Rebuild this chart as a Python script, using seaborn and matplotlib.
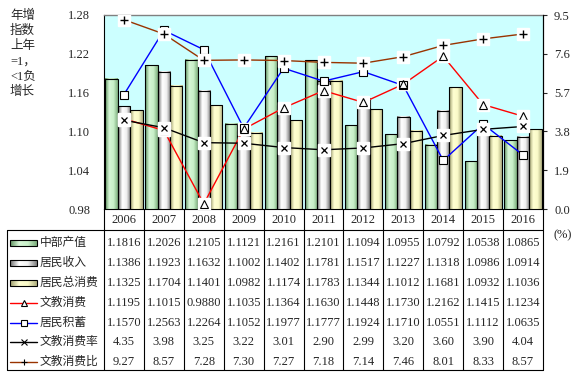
import numpy as np
import pandas as pd
import matplotlib
matplotlib.use('Agg')
import matplotlib.pyplot as plt
import seaborn as sns
from matplotlib.colors import LinearSegmentedColormap
from matplotlib.patches import Rectangle
from matplotlib.transforms import blended_transform_factory

years = ['2006', '2007', '2008', '2009', '2010', '2011', '2012', '2013', '2014', '2015', '2016']
gdp = [1.1816, 1.2026, 1.2105, 1.1121, 1.2161, 1.2101, 1.1094, 1.0955, 1.0792, 1.0538, 1.0865]
income = [1.1386, 1.1923, 1.1632, 1.1002, 1.1402, 1.1781, 1.1517, 1.1227, 1.1318, 1.0986, 1.0914]
consume = [1.1325, 1.1704, 1.1401, 1.0982, 1.1174, 1.1783, 1.1344, 1.1012, 1.1681, 1.0932, 1.1036]
edu_consume = [1.1195, 1.1015, 0.9880, 1.1035, 1.1364, 1.1630, 1.1448, 1.1730, 1.2162, 1.1415, 1.1234]
savings = [1.1570, 1.2563, 1.2264, 1.1052, 1.1977, 1.1777, 1.1924, 1.1710, 1.0551, 1.1112, 1.0635]
edu_rate = [4.35, 3.98, 3.25, 3.22, 3.01, 2.90, 2.99, 3.20, 3.60, 3.90, 4.04]
edu_ratio = [9.27, 8.57, 7.28, 7.30, 7.27, 7.18, 7.14, 7.46, 8.01, 8.33, 8.57]

bar_names = ['中部产值', '居民收入', '居民总消费']
line_names = ['文教消费', '居民积蓄', '文教消费率', '文教消费比']
left_ticks = [0.98, 1.04, 1.10, 1.16, 1.22, 1.28]
right_ticks = [0.0, 1.9, 3.8, 5.7, 7.6, 9.5]

sns.set_style('white')
plt.rcParams['font.family'] = ['Liberation Serif', 'Noto Sans CJK SC']
plt.rcParams['axes.unicode_minus'] = False

# gradient colormaps for the bars (dark edge -> light centre -> mid edge)
cmaps = [
    LinearSegmentedColormap.from_list('g', ['#5E915E', '#D6F6D6', '#C8F0C8', '#7DAE7D']),
    LinearSegmentedColormap.from_list('s', ['#6E6E6E', '#FFFFFF', '#F0F0F0', '#7E7E7E']),
    LinearSegmentedColormap.from_list('y', ['#9C9C6C', '#FFFFD2', '#FAFAC8', '#B0B080']),
]
grad = np.linspace(0, 1, 64).reshape(1, -1)

fig = plt.figure(figsize=(5.76, 3.76), dpi=100)
ax = fig.add_axes([104 / 576, 1 - 209 / 376, 439 / 576, 194 / 376])
ax.set_facecolor('#CCFFFF')

df = pd.DataFrame({
    'year': years * 3,
    'series': [n for n in bar_names for _ in years],
    'value': gdp + income + consume,
})
sns.barplot(data=df, x='year', y='value', hue='series', hue_order=bar_names,
            palette=['#C8F0C8', '#E8E8E8', '#FFFFCC'], saturation=1, width=0.93,
            edgecolor='black', linewidth=0.8, ax=ax, legend=False)

for k, cont in enumerate(ax.containers):
    for bar in cont:
        x0, w = bar.get_x(), bar.get_width()
        y0, h = bar.get_y(), bar.get_height()
        im = ax.imshow(grad, cmap=cmaps[k], extent=[x0, x0 + w, y0, y0 + h],
                       aspect='auto', origin='lower', zorder=2)
        im.set_clip_path(bar)
        im.set_clip_box(ax.bbox)
        bar.set_facecolor('none')
        bar.set_zorder(2.5)

xs = np.arange(len(years))

# left-axis lines
sns.lineplot(x=xs, y=savings, ax=ax, color='#0000FF', lw=1, zorder=4)
ax.plot(xs, savings, 's', mfc='white', mec='black', ms=6, mew=0.8, zorder=6)
sns.lineplot(x=xs, y=edu_consume, ax=ax, color='#FF0000', lw=1, zorder=4)
ax.plot(xs, edu_consume, 's', color='white', ms=8, zorder=5)
ax.plot(xs, edu_consume, '^', mfc='white', mec='black', ms=6, mew=0.8, zorder=6)

ax.set_xlim(-0.5, 10.5)
ax.set_ylim(0.98, 1.28)
ax.set_yticks(left_ticks)
ax.set_yticklabels(['%.2f' % t for t in left_ticks], fontsize=9)
ax.set_xticks([])
ax.set_xlabel('')
ax.set_ylabel('')
ax.tick_params(axis='y', length=0, pad=10)
for s in ['left', 'bottom', 'right']:
    ax.spines[s].set_color('black')
    ax.spines[s].set_linewidth(0.8)
ax.spines['top'].set_color('#808080')
ax.spines['top'].set_linewidth(1)

# right-axis lines
ax2 = ax.twinx()
sns.lineplot(x=xs, y=edu_ratio, ax=ax2, color='#993300', lw=1, zorder=4)
ax2.plot(xs, edu_ratio, 's', color='white', ms=9, zorder=5)
ax2.plot(xs, edu_ratio, '+', color='black', ms=6, mew=1, zorder=6)
sns.lineplot(x=xs, y=edu_rate, ax=ax2, color='black', lw=1, zorder=4)
ax2.plot(xs, edu_rate, 's', color='white', ms=9, zorder=5)
ax2.plot(xs, edu_rate, 'x', color='black', ms=5, mew=0.9, zorder=6)
ax2.set_ylim(0, 9.5)
ax2.set_yticks(right_ticks)
ax2.set_yticklabels(['%.1f' % t for t in right_ticks], fontsize=9)
ax2.set_ylabel('')
ax2.tick_params(axis='y', direction='out', length=3, width=0.8, pad=5)
ax2.spines['right'].set_color('black')
ax2.spines['right'].set_linewidth(0.8)
ax2.spines['top'].set_visible(False)
ax2.spines['left'].set_visible(False)
ax2.spines['bottom'].set_visible(False)

# overlay in pixel coordinates for the data table
ov = fig.add_axes([0, 0, 1, 1], zorder=5)
ov.set_xlim(0, 576)
ov.set_ylim(376, 0)
ov.axis('off')
tr = blended_transform_factory(ax.transData, ov.transData)

for i in range(len(years) + 1):
    ov.plot([i - 0.5, i - 0.5], [209, 370], transform=tr, color='black', lw=0.8)
ov.plot([7, 543], [230, 230], color='black', lw=0.8)
ov.plot([7, 543], [370, 370], color='black', lw=0.8)
ov.plot([7, 7], [230, 370], color='black', lw=0.8)

for i, y in enumerate(years):
    ov.text(i, 220, y, transform=tr, ha='center', va='center', fontsize=9)

rows_y = [243, 263, 283, 302.5, 322.5, 342, 362]
table_rows = [gdp, income, consume, edu_consume, savings, edu_rate, edu_ratio]
fmts = ['%.4f'] * 5 + ['%.2f'] * 2
for ry, vals, f in zip(rows_y, table_rows, fmts):
    for i, v in enumerate(vals):
        ov.text(i, ry, f % v, transform=tr, ha='center', va='center', fontsize=9)

# legend keys
for k in range(3):
    ry = rows_y[k]
    ov.imshow(grad, cmap=cmaps[k], extent=[10, 37, ry + 3, ry - 3], aspect='auto', zorder=2)
    ov.add_patch(Rectangle((10, ry - 3), 27, 6, fill=False, ec='black', lw=0.8, zorder=3))
key_styles = [
    ('#FF0000', '^', 'white', 5),
    ('#0000FF', 's', 'white', 5),
    ('black', 'x', 'black', 4),
    ('#993300', '+', 'black', 5),
]
for (c, m, fc, ms), ry in zip(key_styles, rows_y[3:]):
    ov.plot([10, 37], [ry, ry], color=c, lw=1)
    ov.plot([23.5], [ry], m, mfc=fc, mec='black', color='black', ms=ms, mew=0.8)
for name, ry in zip(bar_names + line_names, rows_y):
    ov.text(40, ry, name, ha='left', va='center', fontsize=8.5)
ov.set_xlim(0, 576)
ov.set_ylim(376, 0)

# vertical y-axis title
for j, t in enumerate(['年增', '指数', '上年', '=1，', '<1负', '增长']):
    ov.text(10, 16 + 15.2 * j, t, ha='left', va='center', fontsize=9)
ov.text(553, 235, '(%)', ha='left', va='center', fontsize=9)

fig.savefig('out.png', dpi=100)
